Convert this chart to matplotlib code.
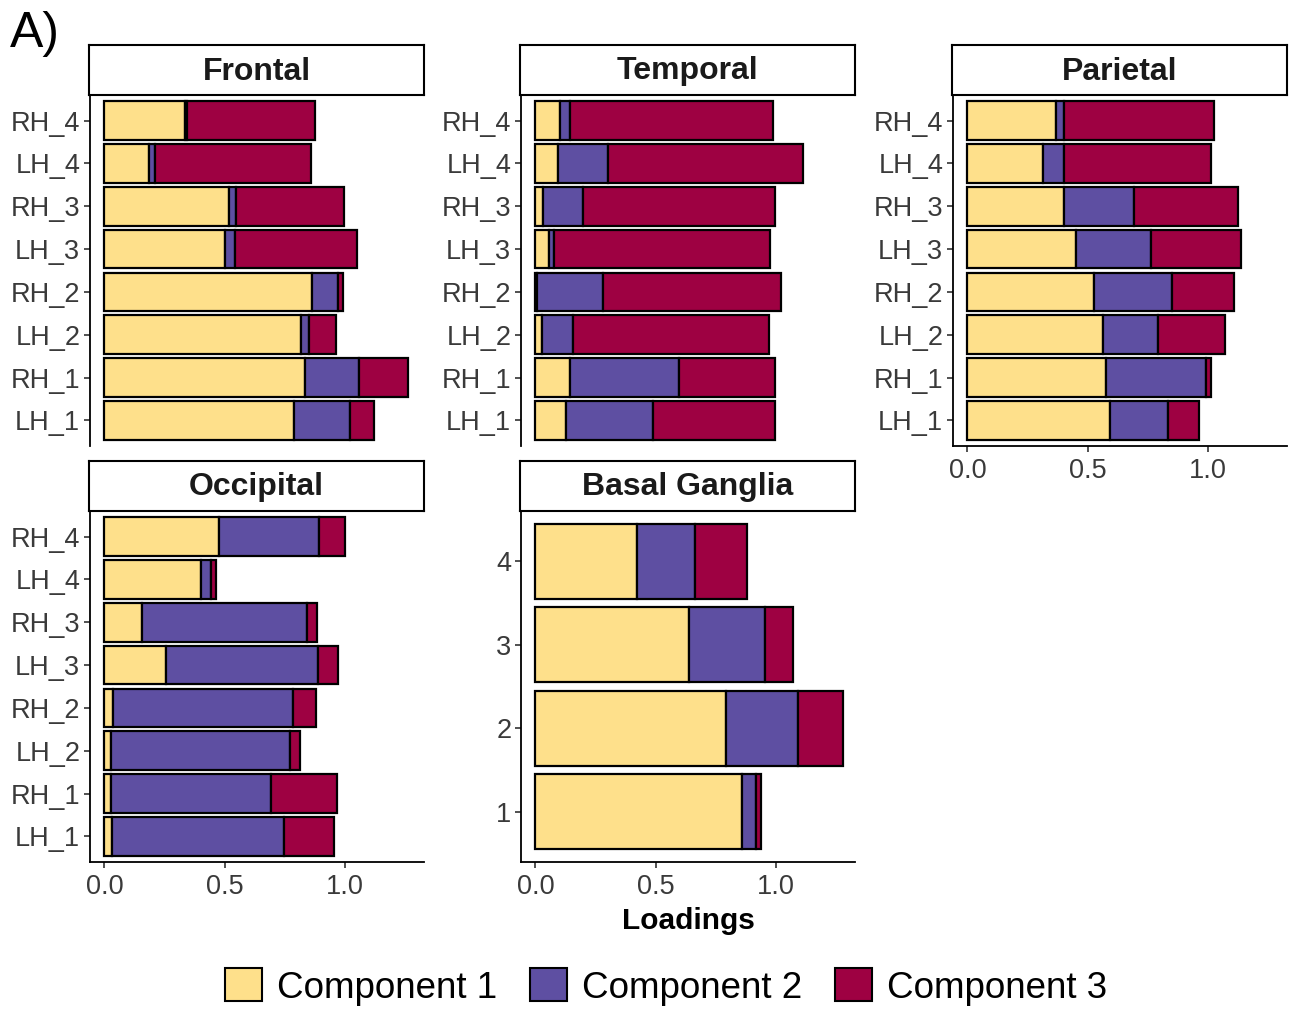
import matplotlib
matplotlib.use('Agg')
import matplotlib.pyplot as plt
from matplotlib.patches import Patch

plt.rcParams['font.family'] = ['Liberation Sans', 'DejaVu Sans']

# data (bottom -> top of each panel)
roi_labels = ['LH_1', 'RH_1', 'LH_2', 'RH_2', 'LH_3', 'RH_3', 'LH_4', 'RH_4']
bg_labels = ['1', '2', '3', '4']

frontal_c1 = [0.788, 0.836, 0.820, 0.864, 0.500, 0.517, 0.185, 0.336]
frontal_c2 = [0.233, 0.224, 0.032, 0.108, 0.042, 0.030, 0.026, 0.006]
frontal_c3 = [0.101, 0.204, 0.111, 0.021, 0.510, 0.449, 0.650, 0.536]

temporal_c1 = [0.127, 0.145, 0.027, 0.006, 0.058, 0.033, 0.093, 0.103]
temporal_c2 = [0.362, 0.451, 0.131, 0.275, 0.021, 0.167, 0.207, 0.042]
temporal_c3 = [0.507, 0.399, 0.813, 0.741, 0.896, 0.795, 0.814, 0.843]

parietal_c1 = [0.595, 0.577, 0.565, 0.526, 0.452, 0.400, 0.316, 0.369]
parietal_c2 = [0.240, 0.416, 0.228, 0.325, 0.311, 0.293, 0.084, 0.034]
parietal_c3 = [0.130, 0.021, 0.279, 0.260, 0.376, 0.435, 0.614, 0.622]

occipital_c1 = [0.030, 0.026, 0.028, 0.035, 0.255, 0.155, 0.404, 0.478]
occipital_c2 = [0.716, 0.666, 0.746, 0.750, 0.634, 0.690, 0.039, 0.416]
occipital_c3 = [0.208, 0.278, 0.039, 0.095, 0.083, 0.040, 0.021, 0.109]

basal_c1 = [0.859, 0.794, 0.638, 0.424]
basal_c2 = [0.060, 0.297, 0.316, 0.240]
basal_c3 = [0.018, 0.191, 0.119, 0.218]

comp_names = ['Component 1', 'Component 2', 'Component 3']
comp_colors = ['#FEE08B', '#5E4FA2', '#9E0142']

W, H = 1301, 1010
fig = plt.figure(figsize=(W / 100, H / 100), dpi=100)


def px_box(left, top, width, height):
    return [left / W, 1 - (top + height) / H, width / W, height / H]


def draw_panel(left, top, title, labels, comps, show_x):
    ax = fig.add_axes(px_box(left, top + 50, 334, 351))
    pos = list(range(1, len(labels) + 1))
    start = [0.0] * len(labels)
    for vals, col in zip(comps, comp_colors):
        ax.barh(pos, vals, left=start, height=0.9, color=col,
                edgecolor='black', linewidth=1.6)
        start = [s + v for s, v in zip(start, vals)]
    ax.set_xlim(-0.06, 1.33)
    ax.set_ylim(0.4, len(labels) + 0.6)
    ax.set_yticks(pos)
    ax.set_yticklabels(labels)
    ax.set_xticks([0.0, 0.5, 1.0])
    ax.set_xticklabels(['0.0', '0.5', '1.0'])
    for s in ['top', 'right']:
        ax.spines[s].set_visible(False)
    ax.spines['left'].set_linewidth(1.3)
    ax.spines['bottom'].set_linewidth(1.3)
    ax.tick_params(axis='both', labelsize=19.5, labelcolor='#3A3A3A',
                   color='#333333', length=4, width=1.2, pad=3)
    ax.tick_params(axis='x', pad=5)
    if not show_x:
        ax.spines['bottom'].set_visible(False)
        ax.tick_params(axis='x', bottom=False, labelbottom=False)

    # facet strip
    st = fig.add_axes(px_box(left - 1, top, 335, 50))
    st.set_xticks([])
    st.set_yticks([])
    for s in st.spines.values():
        s.set_linewidth(1.5)
        s.set_color('black')
    st.text(0.5, 0.47, title, ha='center', va='center', fontsize=23,
            fontweight='bold', color='#1A1A1A', transform=st.transAxes)
    return ax


draw_panel(90, 45, 'Frontal', roi_labels,
           [frontal_c1, frontal_c2, frontal_c3], False)
draw_panel(521, 45, 'Temporal', roi_labels,
           [temporal_c1, temporal_c2, temporal_c3], False)
draw_panel(953, 45, 'Parietal', roi_labels,
           [parietal_c1, parietal_c2, parietal_c3], True)
draw_panel(90, 461, 'Occipital', roi_labels,
           [occipital_c1, occipital_c2, occipital_c3], True)
ax_bg = draw_panel(521, 461, 'Basal Ganglia', bg_labels,
                   [basal_c1, basal_c2, basal_c3], True)
ax_bg.set_xlabel('Loadings', fontsize=21.5, fontweight='bold', labelpad=5)

fig.text(10 / W, 1 - 34 / H, 'A)', fontsize=36, ha='left', va='center')

handles = [Patch(facecolor=c, edgecolor='black', linewidth=1.5) for c in comp_colors]
fig.legend(handles, comp_names, loc='center', ncol=3, frameon=False,
           bbox_to_anchor=(666 / W, 1 - 987 / H), fontsize=26.5,
           handlelength=1.0, handleheight=1.0, handletextpad=0.4,
           columnspacing=0.9)

plt.savefig('out.png', dpi=100)
plt.close()
